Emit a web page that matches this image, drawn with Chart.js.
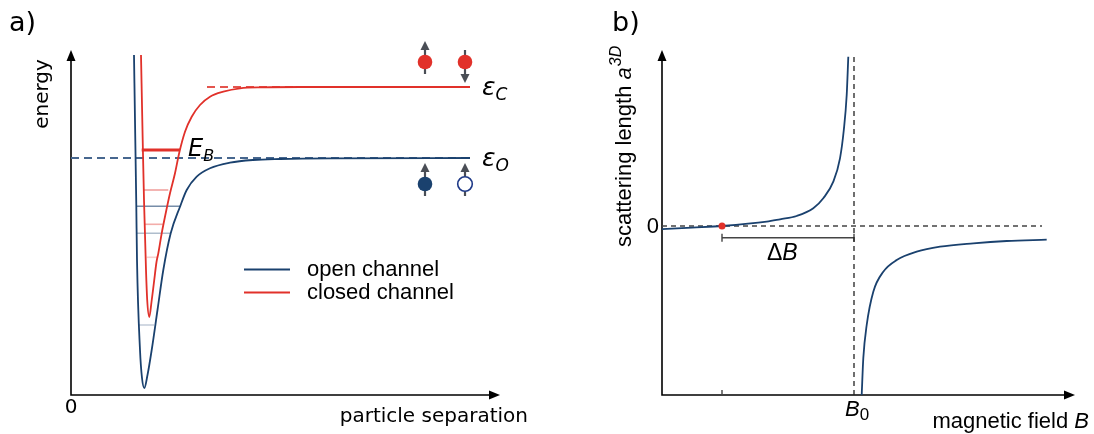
<!DOCTYPE html>
<html>
<head>
<meta charset="utf-8">
<script src="https://cdn.jsdelivr.net/npm/chart.js@4.4.0/dist/chart.umd.min.js"></script>
<style>
  html, body { margin: 0; padding: 0; background: #fff; }
  #wrap { position: relative; width: 1094px; height: 434px; }
  canvas { position: absolute; top: 0; }
</style>
</head>
<body>
<div id="wrap">
  <canvas id="chartA" width="547" height="434" style="left:0"></canvas>
  <canvas id="chartB" width="547" height="434" style="left:547px"></canvas>
</div>
<script>
// ---- panel a: interatomic potentials (arbitrary units) ----
var openSep = [63, 64.3, 65.3, 66, 69, 71, 73.3, 76.5, 80.7, 86.5, 92.3, 99.7, 109, 115.7, 125.7, 139, 159, 182, 209, 259, 399];
var openEnergy = [340, 255, 189, 135, 45, 17, 7, 20, 45, 85, 125, 161.7, 188.3, 205, 218.3, 226.7, 232.3, 235, 236, 236.7, 237];
var closedSep = [70, 71.7, 73, 75, 76.2, 78.3, 80.5, 83, 85.5, 87.3, 90.7, 94.7, 99, 104, 108.3, 114, 120.7, 129, 139, 152.3, 169, 192, 229, 399];
var closedEnergy = [340, 255, 195, 125, 95, 78, 93, 113, 133, 141.7, 161.7, 181.7, 201.7, 221.7, 242.5, 263.3, 278.3, 290, 298.3, 303.3, 306.7, 307.7, 308, 308];
var epsOpen = 237;
var epsClosed = 308;
var bindingLevel = 245;
var bindingRange = [70.7, 109];
// faint vibrational levels: [energy, from, to, alpha]
var openLevels = [[188.7, 65.7, 109, 0.6], [161.7, 66, 99.7, 0.35], [70, 68, 83, 0.25]];
var closedLevels = [[205, 72.3, 97.3, 0.45], [170.7, 74, 91.7, 0.4], [137.7, 75.7, 86.3, 0.22]];
var spinSep = [354, 394];
var spinRedEnergy = 333;
var spinBlueEnergy = 211;

// ---- panel b: scattering length vs magnetic field (arbitrary units) ----
var fieldLeft = [0, 30, 60, 104.7, 118, 134.7, 151.3, 161.3, 171.3, 178, 181.8, 184.7, 186.3];
var scatLeft = [-3.2, -1.6, 0, 4.3, 6.7, 10, 17.7, 27.7, 44.3, 67.7, 96, 131, 169.3];
var fieldRight = [199.7, 201.3, 204.7, 211.3, 221.3, 234.7, 254.7, 278, 311.3, 344.7, 384.7];
var scatRight = [-169, -132.3, -99, -65.7, -45.7, -34, -25.7, -20.7, -17.3, -15, -13.7];
var B0 = 192;
var zeroCrossing = 60;
var deltaBLevel = -11.7;

var NAVY = '#1a416e';
var RED = '#e1312a';

function pts(xs, ys) {
  var out = [];
  for (var i = 0; i < xs.length; i++) out.push({ x: xs[i], y: ys[i] });
  return out;
}

function seg(x1, x2, y, color, width, dash, order) {
  return {
    data: [{ x: x1, y: y }, { x: x2, y: y }],
    borderColor: color, borderWidth: width, borderDash: dash || [],
    pointRadius: 0, tension: 0, order: order
  };
}

function arrowHead(ctx, x, y, dx, dy, len, half) {
  ctx.beginPath();
  ctx.moveTo(x, y);
  ctx.lineTo(x - dx * len - dy * half, y - dy * len + dx * half);
  ctx.lineTo(x - dx * len + dy * half, y - dy * len - dx * half);
  ctx.closePath();
  ctx.fill();
}

function drawAxes(chart) {
  var a = chart.chartArea, ctx = chart.ctx;
  ctx.save();
  ctx.strokeStyle = '#000';
  ctx.fillStyle = '#000';
  ctx.lineWidth = 1.6;
  ctx.beginPath();
  ctx.moveTo(a.left, a.top + 8);
  ctx.lineTo(a.left, a.bottom);
  ctx.lineTo(a.right - 8, a.bottom);
  ctx.stroke();
  arrowHead(ctx, a.left, a.top, 0, -1, 11, 4.5);
  arrowHead(ctx, a.right, a.bottom, 1, 0, 11, 4.5);
  ctx.restore();
}

function spin(ctx, x, y, up, fill, stroke) {
  ctx.save();
  ctx.strokeStyle = '#4a4e56';
  ctx.fillStyle = '#4a4e56';
  ctx.lineWidth = 2.2;
  ctx.beginPath();
  if (up) { ctx.moveTo(x, y + 12); ctx.lineTo(x, y - 14); }
  else { ctx.moveTo(x, y - 12); ctx.lineTo(x, y + 14); }
  ctx.stroke();
  if (up) arrowHead(ctx, x, y - 21, 0, -1, 9, 4.5);
  else arrowHead(ctx, x, y + 21, 0, 1, 9, 4.5);
  ctx.beginPath();
  ctx.arc(x, y, 7.3, 0, Math.PI * 2);
  ctx.fillStyle = fill;
  ctx.fill();
  if (stroke) { ctx.strokeStyle = stroke; ctx.lineWidth = 1.6; ctx.stroke(); }
  ctx.restore();
}

function subLabel(ctx, main, sub, x, y, size, subSize) {
  ctx.font = 'italic ' + size + 'px "DejaVu Sans"';
  ctx.fillText(main, x, y);
  var w = ctx.measureText(main).width;
  ctx.font = 'italic ' + subSize + 'px "DejaVu Sans"';
  ctx.fillText(sub, x + w, y + 5);
}

var panelA = {
  id: 'panelA',
  beforeDatasetsDraw: function (chart) { drawAxes(chart); },
  afterDatasetsDraw: function (chart) {
    var ctx = chart.ctx, xs = chart.scales.x, ys = chart.scales.y;
    ctx.save();
    ctx.fillStyle = '#000';
    ctx.textBaseline = 'alphabetic';
    ctx.font = '27px "DejaVu Sans"';
    ctx.fillText('a)', 9, 31);
    ctx.font = '20px "DejaVu Sans"';
    ctx.textAlign = 'center';
    ctx.textBaseline = 'middle';
    ctx.fillText('0', 71, 408);
    ctx.textAlign = 'right';
    ctx.fillText('particle separation', 528, 417);
    ctx.save();
    ctx.translate(43, 94);
    ctx.rotate(-Math.PI / 2);
    ctx.textAlign = 'center';
    ctx.fillText('energy', 0, 0);
    ctx.restore();
    ctx.textAlign = 'left';
    ctx.textBaseline = 'alphabetic';
    subLabel(ctx, 'E', 'B', 188, 156, 24, 16);
    subLabel(ctx, '\u03b5', 'C', xs.getPixelForValue(411), ys.getPixelForValue(epsClosed) + 8, 25, 17);
    subLabel(ctx, '\u03b5', 'O', xs.getPixelForValue(411), ys.getPixelForValue(epsOpen) + 8, 25, 17);
    // legend
    ctx.lineWidth = 1.8;
    ctx.strokeStyle = NAVY;
    ctx.beginPath(); ctx.moveTo(244, 269.5); ctx.lineTo(290, 269.5); ctx.stroke();
    ctx.strokeStyle = RED;
    ctx.beginPath(); ctx.moveTo(244, 292.5); ctx.lineTo(290, 292.5); ctx.stroke();
    ctx.font = '22px "Liberation Sans"';
    ctx.textBaseline = 'middle';
    ctx.fillText('open channel', 307, 270);
    ctx.fillText('closed channel', 307, 293);
    ctx.restore();
    // spins
    var x1 = xs.getPixelForValue(spinSep[0]), x2 = xs.getPixelForValue(spinSep[1]);
    var yr = ys.getPixelForValue(spinRedEnergy), yb = ys.getPixelForValue(spinBlueEnergy);
    spin(ctx, x1, yr, true, RED);
    spin(ctx, x2, yr, false, RED);
    spin(ctx, x1, yb, true, NAVY);
    spin(ctx, x2, yb, true, '#fff', '#1f3a88');
  }
};

var dsA = [
  { data: pts(openSep, openEnergy), borderColor: NAVY, borderWidth: 1.8, pointRadius: 0, cubicInterpolationMode: 'monotone', order: 1 },
  { data: pts(closedSep, closedEnergy), borderColor: RED, borderWidth: 1.8, pointRadius: 0, cubicInterpolationMode: 'monotone', order: 2 },
  seg(0, 399, epsOpen, '#47678f', 2, [8, 5], 5),
  seg(136, 399, epsClosed, '#e4554e', 2, [8, 5], 5),
  seg(bindingRange[0], bindingRange[1], bindingLevel, RED, 3, null, 3)
];
openLevels.forEach(function (l) { dsA.push(seg(l[1], l[2], l[0], 'rgba(26,65,110,' + l[3] + ')', 1.6, null, 4)); });
closedLevels.forEach(function (l) { dsA.push(seg(l[1], l[2], l[0], 'rgba(225,49,42,' + l[3] + ')', 1.6, null, 4)); });

var common = {
  responsive: false,
  animation: false,
  events: [],
  plugins: { legend: { display: false }, tooltip: { enabled: false } }
};

new Chart(document.getElementById('chartA'), {
  type: 'line',
  data: { datasets: dsA },
  options: Object.assign({}, common, {
    layout: { padding: { left: 71, right: 47, top: 50, bottom: 39 } },
    scales: {
      x: { type: 'linear', min: 0, max: 429, display: false },
      y: { type: 'linear', min: 0, max: 345, display: false }
    }
  }),
  plugins: [panelA]
});

var panelB = {
  id: 'panelB',
  beforeDatasetsDraw: function (chart) {
    drawAxes(chart);
    var ctx = chart.ctx, xs = chart.scales.x, ys = chart.scales.y, a = chart.chartArea;
    ctx.save();
    ctx.strokeStyle = '#444';
    ctx.lineWidth = 1.4;
    var tx = xs.getPixelForValue(zeroCrossing);
    ctx.beginPath(); ctx.moveTo(tx, a.bottom - 5); ctx.lineTo(tx, a.bottom); ctx.stroke();
    var by = ys.getPixelForValue(deltaBLevel), bx2 = xs.getPixelForValue(B0);
    ctx.beginPath();
    ctx.moveTo(tx, by); ctx.lineTo(bx2, by);
    ctx.moveTo(tx, by - 4); ctx.lineTo(tx, by + 4);
    ctx.moveTo(bx2, by - 4); ctx.lineTo(bx2, by + 4);
    ctx.stroke();
    ctx.restore();
  },
  afterDatasetsDraw: function (chart) {
    var ctx = chart.ctx, xs = chart.scales.x, ys = chart.scales.y;
    ctx.save();
    ctx.fillStyle = '#000';
    ctx.font = '27px "DejaVu Sans"';
    ctx.fillText('b)', 65, 31);
    ctx.font = '22px "Liberation Sans"';
    ctx.textAlign = 'right';
    ctx.textBaseline = 'middle';
    ctx.fillText('0', 112, ys.getPixelForValue(0) + 1);
    ctx.textBaseline = 'alphabetic';
    // delta B
    ctx.textAlign = 'left';
    ctx.font = '23px "Liberation Sans"';
    var dx = 220;
    ctx.fillText('\u0394', dx, 260);
    var w = ctx.measureText('\u0394').width;
    ctx.font = 'italic 23px "Liberation Sans"';
    ctx.fillText('B', dx + w, 260);
    // B0
    ctx.font = 'italic 22px "Liberation Sans"';
    var bx = xs.getPixelForValue(B0);
    ctx.fillText('B', bx - 9, 416);
    w = ctx.measureText('B').width;
    ctx.font = '17px "Liberation Sans"';
    ctx.fillText('0', bx - 9 + w, 420);
    // x label
    ctx.font = 'italic 22px "Liberation Sans"';
    var wb = ctx.measureText('B').width;
    ctx.fillText('B', 542 - wb, 428);
    ctx.font = '22px "Liberation Sans"';
    ctx.textAlign = 'right';
    ctx.fillText('magnetic field ', 542 - wb, 428);
    // y label
    ctx.translate(84, 247);
    ctx.rotate(-Math.PI / 2);
    ctx.textAlign = 'left';
    ctx.font = '22px "Liberation Sans"';
    var s = 'scattering length ';
    ctx.fillText(s, 0, 0);
    var p = ctx.measureText(s).width;
    ctx.font = 'italic 22px "Liberation Sans"';
    ctx.fillText('a', p, 0);
    p += ctx.measureText('a').width + 1;
    ctx.font = 'italic 16px "Liberation Sans"';
    ctx.fillText('3D', p, -10);
    ctx.restore();
  }
};

new Chart(document.getElementById('chartB'), {
  type: 'line',
  data: {
    datasets: [
      { data: [{ x: zeroCrossing, y: 0 }], borderColor: RED, backgroundColor: RED, pointRadius: 3.5, pointBorderWidth: 0, showLine: false, order: 0 },
      { data: pts(fieldLeft, scatLeft), borderColor: NAVY, borderWidth: 1.8, pointRadius: 0, cubicInterpolationMode: 'monotone', order: 1 },
      { data: pts(fieldRight, scatRight), borderColor: NAVY, borderWidth: 1.8, pointRadius: 0, cubicInterpolationMode: 'monotone', order: 1 },
      seg(0, 380, 0, '#444', 1.3, [5, 4], 3),
      { data: [{ x: B0, y: -169 }, { x: B0, y: 169 }], borderColor: '#222', borderWidth: 1.3, borderDash: [5, 4], pointRadius: 0, tension: 0, order: 3 }
    ]
  },
  options: Object.assign({}, common, {
    layout: { padding: { left: 115, right: 19, top: 50, bottom: 39 } },
    scales: {
      x: { type: 'linear', min: 0, max: 413, display: false },
      y: { type: 'linear', min: -169, max: 176, display: false }
    }
  }),
  plugins: [panelB]
});
</script>
</body>
</html>
